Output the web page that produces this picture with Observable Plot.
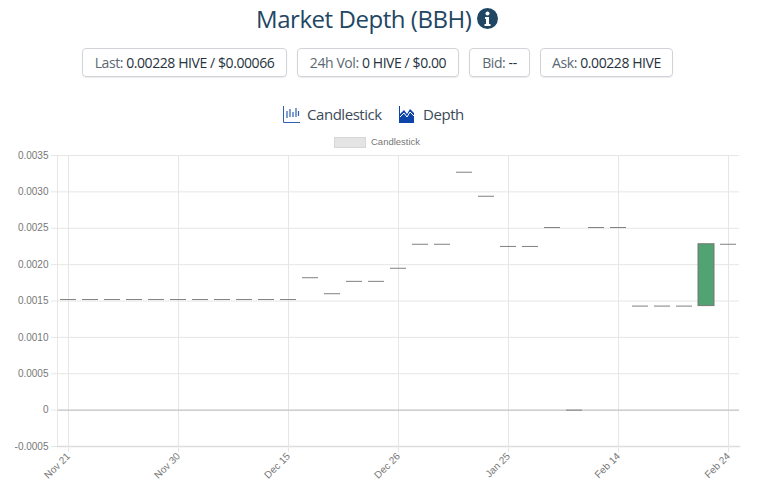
<!DOCTYPE html>
<html><head><meta charset="utf-8">
<script src="https://cdn.jsdelivr.net/npm/d3@7"></script>
<script src="https://cdn.jsdelivr.net/npm/@observablehq/plot@0.6"></script>
<style>
html,body{margin:0;padding:0;background:#fff;overflow:hidden}
body{width:768px;height:499px;position:relative;font-family:"Open Sans",sans-serif;color:#3c4a57}
.title{position:absolute;left:256px;top:0;font-size:24px;letter-spacing:-.45px;line-height:38px;color:#1f4763;white-space:nowrap}
.info{position:absolute;left:477px;top:8px}
.chip{position:absolute;top:48px;height:27px;box-sizing:content-box;border:1px solid #d0d4d8;border-radius:4px;font-size:14px;letter-spacing:-.42px;line-height:27px;text-align:center;white-space:nowrap;color:#5c6873;box-shadow:0 1px 1px rgba(0,0,0,.08)}
.chip b{font-weight:400;color:#26323d}
.tab{position:absolute;top:103px;font-size:15px;letter-spacing:-.45px;line-height:22px;color:#3c4a57;white-space:nowrap}
.tabicon{position:absolute;top:106px}
.swatch{position:absolute;left:334px;top:137px;width:30px;height:9px;background:#e4e4e4;border:1px solid #d6d6d6}
.leg{position:absolute;left:371px;top:135px;font:9.5px/13px "Liberation Sans",sans-serif;color:#777}
#chart{position:absolute;left:0;top:150px}
</style></head><body>
<div class="title">Market Depth (BBH)</div>
<svg class="info" width="21" height="21" viewBox="0 0 21 21"><circle cx="10.5" cy="10.5" r="10.5" fill="#1f4763"/><circle cx="10.5" cy="5.6" r="2" fill="#fff"/><path d="M8 9h4v7h1.5v2h-6v-2H9v-5H8z" fill="#fff"/></svg>
<div class="chip" style="left:82px;width:203px">Last: <b>0.00228 HIVE / $0.00066</b></div>
<div class="chip" style="left:297px;width:160px">24h Vol: <b>0 HIVE / $0.00</b></div>
<div class="chip" style="left:469px;width:59px">Bid: <b>--</b></div>
<div class="chip" style="left:540px;width:131px">Ask: <b>0.00228 HIVE</b></div>
<svg class="tabicon" style="left:283px" width="17" height="17" viewBox="0 0 17 17"><path d="M.5 0v16.5H17" fill="none" stroke="#2d62b5"/><path d="M4 5v7M7 3v8M10 6v5M13 2v9M15.5 5v5" stroke="#2d62b5" stroke-width="1.2"/></svg>
<div class="tab" style="left:307px">Candlestick</div>
<svg class="tabicon" style="left:399px" width="16" height="17" viewBox="0 0 16 17"><path d="M0 0h1v8l4-4 3 4 3-5 4 4v10H0z" fill="#0c44a8"/><path d="M1 11l4-4 3 4 3-5 4 4" fill="none" stroke="#fff"/></svg>
<div class="tab" style="left:423px">Depth</div>
<div class="swatch"></div><div class="leg">Candlestick</div>
<div id="chart"></div>
<script>
const dates = ["Nov 21","Nov 23","Nov 25","Nov 26","Nov 28","Nov 30","Dec 2","Dec 5","Dec 8","Dec 12","Dec 15","Dec 17","Dec 19","Dec 21","Dec 23","Dec 26","Dec 28","Dec 31","Jan 5","Jan 15","Jan 25","Jan 29","Feb 2","Feb 6","Feb 10","Feb 14","Feb 16","Feb 18","Feb 20","Feb 22","Feb 24"];
const opens = [0.00152,0.00152,0.00152,0.00152,0.00152,0.00152,0.00152,0.00152,0.00152,0.00152,0.00152,0.00182,0.0016,0.00177,0.00177,0.00195,0.00228,0.00228,0.00327,0.00294,0.00225,0.00225,0.00251,0,0.00251,0.00251,0.00143,0.00143,0.00143,0.00143,0.00228];
const closes = [0.00152,0.00152,0.00152,0.00152,0.00152,0.00152,0.00152,0.00152,0.00152,0.00152,0.00152,0.00182,0.0016,0.00177,0.00177,0.00195,0.00228,0.00228,0.00327,0.00294,0.00225,0.00225,0.00251,0,0.00251,0.00251,0.00143,0.00143,0.00143,0.00228,0.00228];
const xTicks = ["Nov 21","Nov 30","Dec 15","Dec 26","Jan 25","Feb 14","Feb 24"];
const yTicks = [-0.0005,0,0.0005,0.001,0.0015,0.002,0.0025,0.003,0.0035];
const rows = dates.map((d,i)=>({date:d,open:opens[i],close:closes[i]}));
const up = rows.filter(d=>d.close!==d.open);
const flat = rows.filter(d=>d.close===d.open);
const grid="#e6e6e6", txt="#777";
const plot = Plot.plot({
  width:768,height:349,marginLeft:57,marginRight:29,marginTop:5,marginBottom:53,
  style:{background:"transparent",fontFamily:"'Liberation Sans',sans-serif",fontSize:"10px"},
  x:{type:"band",domain:dates,padding:0,round:false,label:null},
  y:{domain:[-0.0005,0.0035],label:null},
  marks:[
    Plot.ruleY(yTicks,{stroke:grid,strokeOpacity:1}),
    Plot.ruleX(xTicks,{stroke:grid,strokeOpacity:1}),
    Plot.ruleY([0],{stroke:"#bdbdbd"}),
    Plot.frame({anchor:"left",stroke:grid}),
    Plot.frame({anchor:"bottom",stroke:"#dcdcdc",strokeWidth:1.5}),
    Plot.axisY({ticks:yTicks,tickSize:6,tickPadding:3,stroke:grid,color:txt,tickFormat:d=>d===0?"0":d.toFixed(4),label:null}),
    Plot.axisX({ticks:xTicks,tickSize:6,tickPadding:2,tickRotate:-45,stroke:grid,color:txt,label:null}),
    Plot.tickY(flat,{x:"date",y:"close",insetLeft:3,insetRight:3,stroke:"#808080",strokeWidth:1}),
    Plot.barY(up,{x:"date",y1:"open",y2:"close",insetLeft:3,insetRight:3,fill:"#52a273",stroke:"#777",strokeWidth:1})
  ]
});
document.getElementById("chart").appendChild(plot);
</script>
</body></html>
